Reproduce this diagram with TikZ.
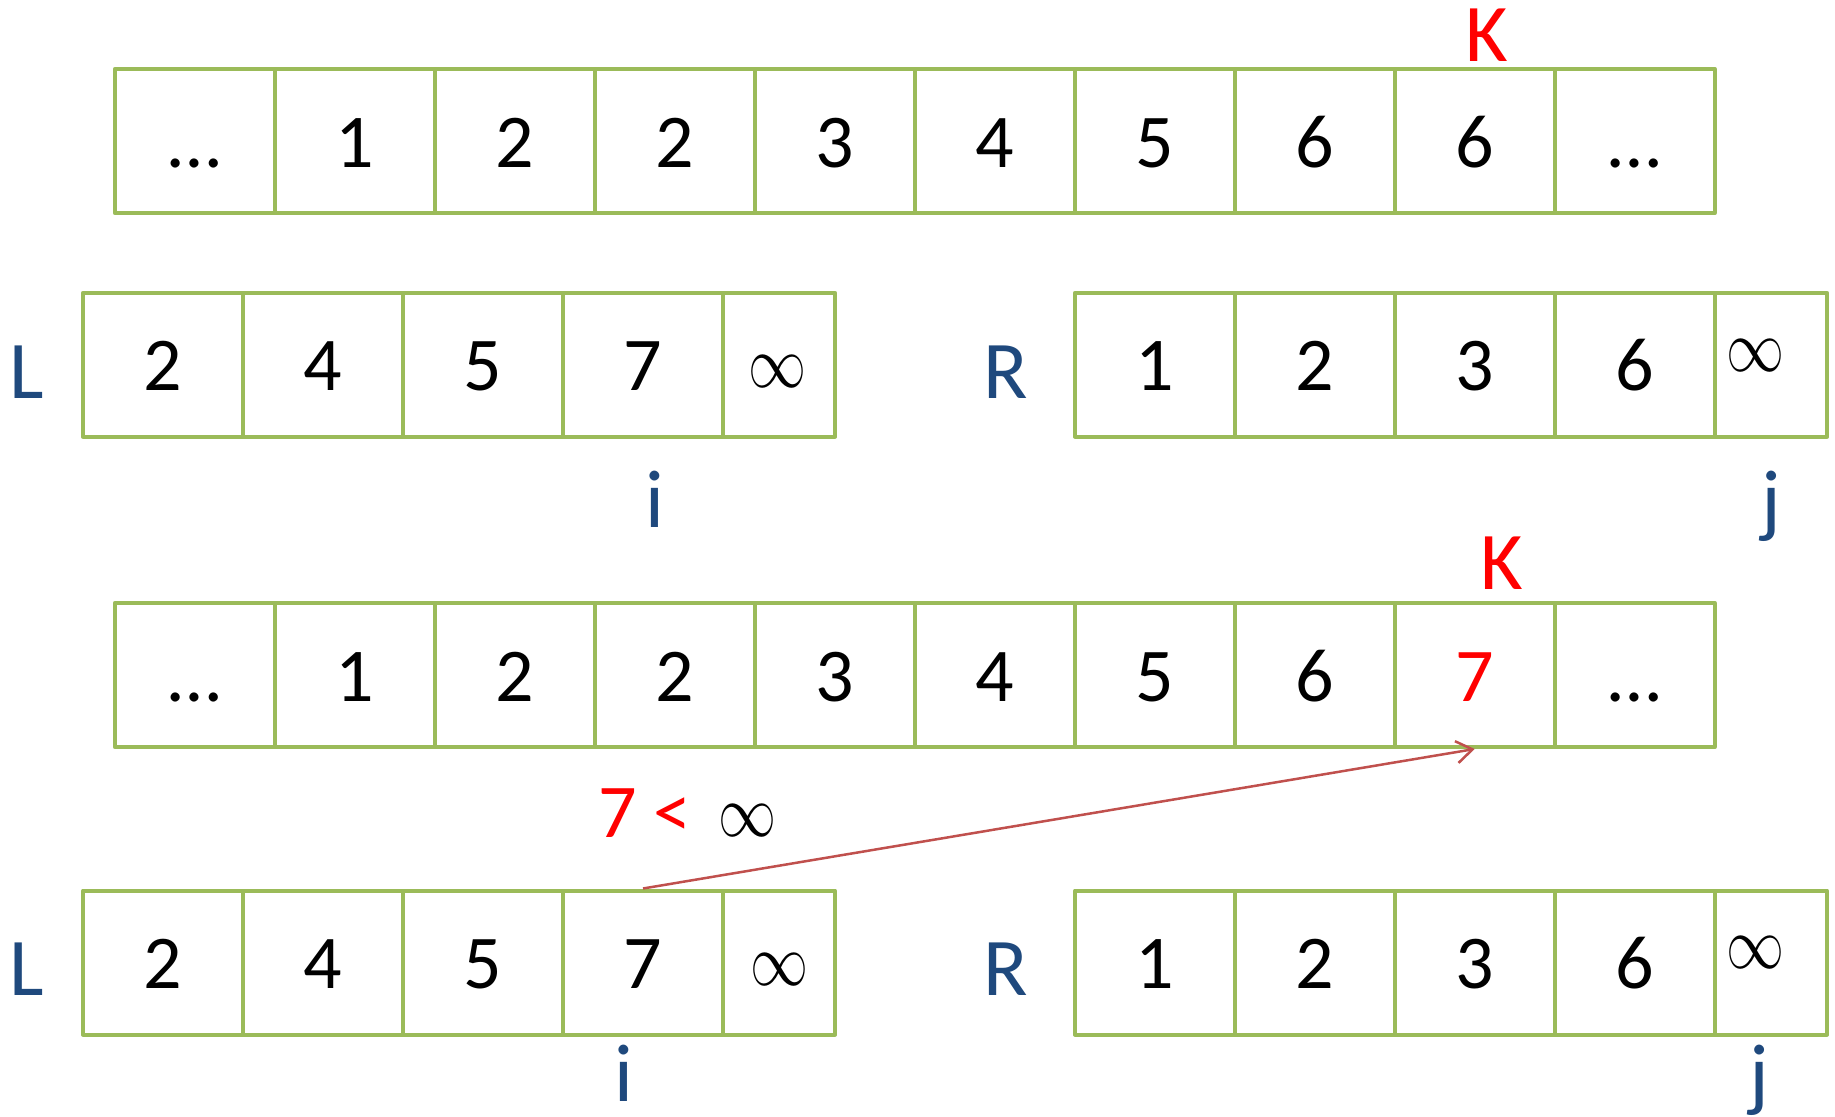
\documentclass[tikz,border=0pt]{standalone}
\usepackage{fontspec}
\usepackage{graphicx}
\setmainfont{Carlito}
\usetikzlibrary{arrows.meta}
\definecolor{cgreen}{HTML}{9BBB59}
\definecolor{cblue}{HTML}{1F497D}
\definecolor{cred}{HTML}{FF0000}
\definecolor{carrow}{HTML}{C0504D}
\newcommand{\infsym}{\scalebox{5.8}[7.4]{$\infty$}}
\begin{document}
\begin{tikzpicture}[x=1pt,y=-1pt,
  cell/.style={draw=cgreen, line width=4pt, line join=round, minimum width=160pt, minimum height=144pt, inner sep=0pt, text height=52pt, text depth=0pt, font=\fontsize{76}{76}\selectfont},
  endcell/.style={cell, minimum width=112pt},
  lbl/.style={text=cblue, font=\fontsize{82}{82}\selectfont, inner sep=0pt, anchor=base},
  klbl/.style={text=cred, font=\fontsize{82}{82}\selectfont, inner sep=0pt, anchor=base},
  inf/.style={inner sep=0pt, anchor=center},
  ptr/.style={draw=carrow, line width=2.5pt, -{Straight Barb[length=16pt,width=22pt,line width=2.5pt]}}]
\useasboundingbox (0,0) rectangle (1835,1116);
% row 1
\foreach \t [count=\k from 0] in {…,1,2,2,3,4,5,6,6,…}
  \node[cell] (T\k) at (194.7+160*\k, 141) {\t};
\node[klbl] (K1) at (1487, 62) {K};
% row 2
\foreach \t [count=\k from 0] in {2,4,5,7}
  \node[cell] (L\k) at (163+160*\k, 364.7) {\t};
\node[endcell] (L4) at (779, 364.7) {};
\node[inf] (Linf1) at (777, 372) {\infsym};
\foreach \t [count=\k from 0] in {1,2,3,6}
  \node[cell] (R\k) at (1155+160*\k, 364.7) {\t};
\node[endcell] (R4) at (1771, 364.7) {};
\node[inf] (Rinf1) at (1755, 356) {\infsym};
\node[lbl] (Lname1) at (27, 398) {L};
\node[lbl] (Rname1) at (1006, 398) {R};
\node[lbl] (i1) at (655, 527) {i};
\node[lbl] (j1) at (1771, 527) {j};
% row 3
\foreach \t [count=\k from 0] in {…,1,2,2,3,4,5,6,{\textcolor{cred}{7}},…}
  \node[cell] (B\k) at (194.7+160*\k, 675) {\t};
\node[klbl] (K2) at (1502, 589) {K};
% row 4
\foreach \t [count=\k from 0] in {2,4,5,7}
  \node[cell] (M\k) at (163+160*\k, 962.5) {\t};
\node[endcell] (M4) at (779, 962.5) {};
\node[inf] (Linf2) at (779, 970) {\infsym};
\foreach \t [count=\k from 0] in {1,2,3,6}
  \node[cell] (S\k) at (1155+160*\k, 962.5) {\t};
\node[endcell] (S4) at (1771, 962.5) {};
\node[inf] (Rinf2) at (1755, 953) {\infsym};
\node[lbl] (Lname2) at (27, 995) {L};
\node[lbl] (Rname2) at (1006, 995) {R};
\node[lbl] (i2) at (624, 1101) {i};
\node[lbl] (j2) at (1759, 1101) {j};
% comparison
\node[anchor=base west, inner sep=0pt, text=cred, font=\fontsize{76}{76}\selectfont] (cmp) at (598, 837) {7 <};
\node[inf] (cmpinf) at (747, 821) {\infsym};
\draw[ptr] (M3.north) -- (B8.south);
\end{tikzpicture}
\end{document}
